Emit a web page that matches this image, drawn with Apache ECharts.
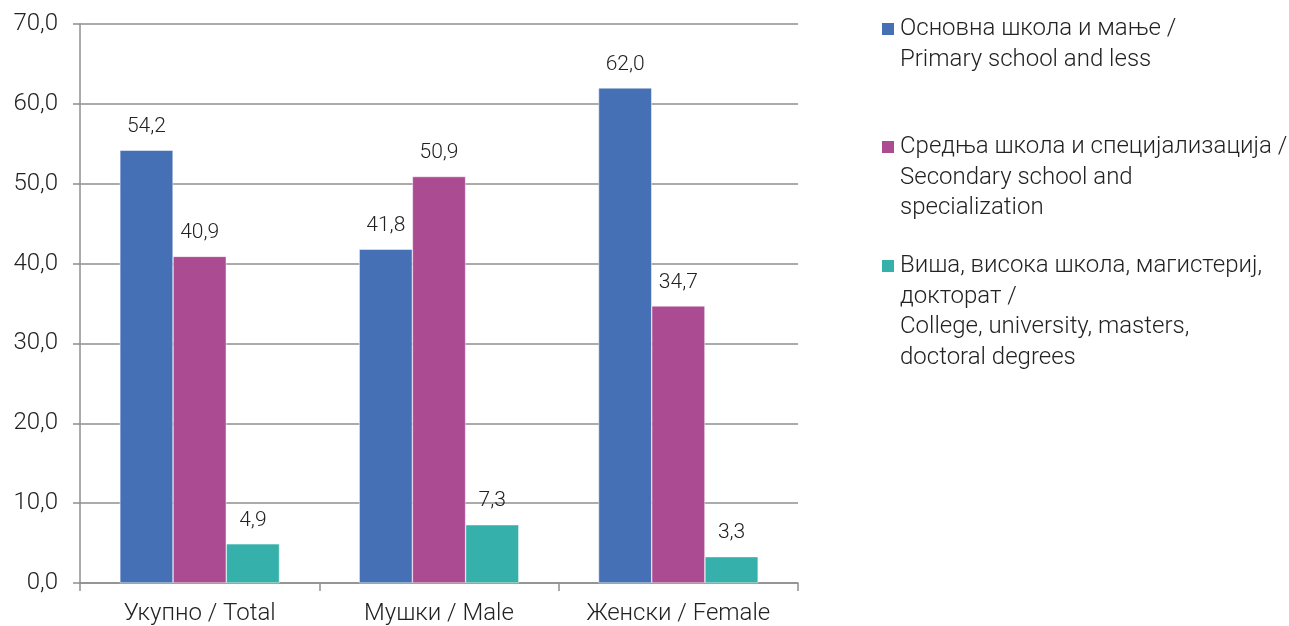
<!DOCTYPE html>
<html>
<head>
<meta charset="utf-8">
<script src="https://cdn.jsdelivr.net/npm/echarts@6/dist/echarts.min.js"></script>
<style>
  html, body { margin: 0; padding: 0; background: #fff; }
  #chart { width: 1289px; height: 626px; }
</style>
</head>
<body>
<div id="chart"></div>
<script>
const categories = ['Укупно / Total', 'Мушки / Male', 'Женски / Female'];
const seriesNames = [
  'Основна школа и мање /\nPrimary school and less',
  'Средња школа и специјализација /\nSecondary school and\nspecialization',
  'Виша, висока школа, магистериј,\nдокторат /\nCollege, university, masters,\ndoctoral degrees'
];
const primary = [54.2, 41.8, 62.0];
const secondary = [40.9, 50.9, 34.7];
const higher = [4.9, 7.3, 3.3];
const yTicks = [0, 10, 20, 30, 40, 50, 60, 70];

const colors = ['#4670b5', '#ab4b92', '#35b0aa'];
const FONT = 'Roboto';
const LH = 30.5;
const fmt = v => v.toFixed(1).replace('.', ',');

const chart = echarts.init(document.getElementById('chart'));

// first text line of each legend item is aligned with its square icon
function legendFor(i, firstLineY) {
  const lines = seriesNames[i].split('\n').length;
  const total = 2 * lines - 1;
  return {
    data: [seriesNames[i]],
    orient: 'vertical',
    left: 880,
    top: firstLineY - (total * LH) / 2,
    padding: 0,
    itemWidth: 14,
    itemHeight: 14,
    icon: 'rect',
    selectedMode: false,
    formatter: name => '\n'.repeat(lines - 1) + name,
    textStyle: {
      fontFamily: FONT, fontWeight: 300, fontSize: 24, color: '#222',
      lineHeight: LH
    }
  };
}

const data = [primary, secondary, higher];

chart.setOption({
  animation: false,
  color: colors,
  textStyle: { fontFamily: FONT },
  grid: { left: 80, right: 491, top: 24, bottom: 42, containLabel: false },
  legend: [legendFor(0, 29), legendFor(1, 147), legendFor(2, 266)],
  xAxis: {
    type: 'category',
    data: categories,
    axisLine: { lineStyle: { color: '#8f8f8f', width: 1.5 } },
    axisTick: { show: true, length: 8, lineStyle: { color: '#8f8f8f', width: 1.5 } },
    axisLabel: { fontFamily: FONT, fontWeight: 300, fontSize: 24, color: '#222', margin: 19 }
  },
  yAxis: {
    type: 'value',
    min: yTicks[0],
    max: yTicks[yTicks.length - 1],
    interval: 10,
    axisLine: { show: true, lineStyle: { color: '#8f8f8f', width: 1.5 } },
    axisTick: { show: true, length: 7, lineStyle: { color: '#8f8f8f', width: 1.5 } },
    splitLine: { lineStyle: { color: '#8f8f8f', width: 1.5 } },
    axisLabel: { fontFamily: FONT, fontWeight: 300, fontSize: 24, color: '#222', margin: 22,
      formatter: v => fmt(v) }
  },
  series: data.map((arr, i) => ({
    name: seriesNames[i],
    type: 'bar',
    data: arr,
    barGap: '0%',
    barCategoryGap: '33.3%',
    itemStyle: { color: colors[i], borderColor: '#ffffff', borderWidth: 0.5 },
    label: {
      show: true, position: 'top', distance: 13,
      fontFamily: FONT, fontWeight: 300, fontSize: 21, color: '#222',
      formatter: p => fmt(p.value)
    }
  }))
});
</script>
</body>
</html>
